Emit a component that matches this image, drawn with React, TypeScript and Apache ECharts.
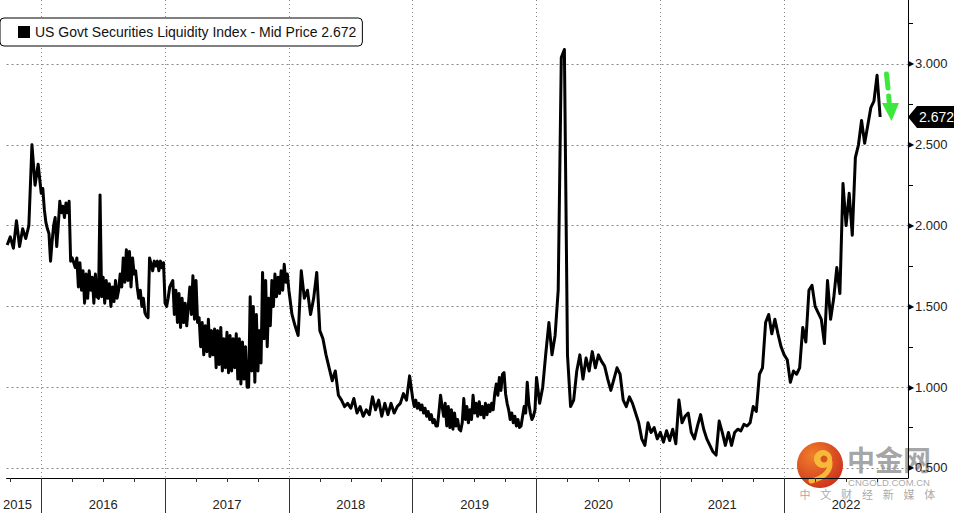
import React, { useEffect, useRef } from "react";
import * as echarts from "echarts";

const SERIES_NAME = "US Govt Securities Liquidity Index - Mid Price";
const FIRST_SAMPLE = 2015.725;

// values, one array per calendar year
// (2016, 2017 and 2019 are sampled twice as densely because those stretches are very noisy)
const v2015 = [1.88, 1.93, 1.86, 2.03, 1.87, 1.98, 1.92, 2.0, 2.5, 2.25, 2.38];
const v2016 = [2.2, 2.23, 2.1, 2.02, 1.98, 1.95, 1.78, 1.9, 2.0, 2.05, 1.87, 2.0, 2.15, 2.08, 2.12, 2.05, 2.14, 2.08, 2.15, 1.78,
  1.8, 1.77, 1.74, 1.8, 1.62, 1.77, 1.6, 1.72, 1.52, 1.7, 1.55, 1.72, 1.6, 1.68, 1.52, 1.7, 1.56, 1.55, 2.19, 1.56,
  1.68, 1.52, 1.66, 1.55, 1.64, 1.5, 1.62, 1.53, 1.66, 1.55, 1.6, 1.7, 1.62, 1.8, 1.65, 1.85, 1.66, 1.84, 1.62, 1.8,
  1.7, 1.72, 1.62, 1.55, 1.6, 1.5, 1.55, 1.46, 1.44, 1.43, 1.8, 1.76, 1.72, 1.78, 1.75, 1.78, 1.72, 1.78, 1.74, 1.77];
const v2017 = [1.52, 1.5, 1.55, 1.62, 1.64, 1.66, 1.45, 1.6, 1.4, 1.58, 1.37, 1.55, 1.4, 1.52, 1.38, 1.5, 1.62, 1.45, 1.69, 1.42,
  1.66, 1.4, 1.43, 1.25, 1.4, 1.2, 1.38, 1.22, 1.42, 1.19, 1.35, 1.2, 1.36, 1.12, 1.35, 1.14, 1.37, 1.1, 1.3, 1.12,
  1.34, 1.09, 1.32, 1.1, 1.3, 1.12, 1.33, 1.05, 1.3, 1.02, 1.28, 1.05, 1.25, 1.0, 1.0, 1.56, 1.1, 1.5, 1.03, 1.45,
  1.1, 1.35, 1.15, 1.71, 1.3, 1.66, 1.25, 1.55, 1.38, 1.66, 1.5, 1.7, 1.56, 1.68, 1.58, 1.72, 1.6, 1.76, 1.65, 1.7];
const v2018 = [1.6, 1.45, 1.38, 1.32, 1.72, 1.55, 1.6, 1.45, 1.55, 1.71, 1.35, 1.3, 1.2, 1.12, 1.04, 1.1, 0.95, 0.92, 0.88, 0.9,
  0.87, 0.93, 0.84, 0.88, 0.82, 0.86, 0.83, 0.94, 0.86, 0.92, 0.82, 0.9, 0.83, 0.9, 0.84, 0.88, 0.9, 0.96, 0.92, 1.07];
const v2019 = [0.93, 0.88, 0.92, 0.87, 0.9, 0.86, 0.89, 0.84, 0.87, 0.82, 0.85, 0.8, 0.83, 0.78, 0.8, 0.76, 0.76, 0.85, 0.95, 0.88,
  0.82, 0.9, 0.76, 0.88, 0.75, 0.86, 0.74, 0.84, 0.76, 0.8, 0.74, 0.73, 0.78, 0.93, 0.8, 0.88, 0.78, 0.86, 0.8, 0.95,
  0.84, 0.9, 0.82, 0.91, 0.83, 0.88, 0.81, 0.9, 0.83, 0.89, 0.85, 0.9, 0.86, 0.96, 1.02, 0.95, 1.06, 0.98, 1.08, 1.09,
  0.96, 0.9, 0.86, 0.8, 0.84, 0.78, 0.82, 0.76, 0.8, 0.75, 0.76, 0.82, 0.88, 0.84, 1.03, 0.9, 0.84, 0.8, 0.82, 0.86];
const v2020 = [1.06, 0.9, 1.0, 1.21, 1.4, 1.2, 1.32, 1.6, 3.04, 3.09, 1.2, 0.88, 0.92, 1.1, 1.2, 1.05, 1.18, 1.1, 1.22, 1.12,
  1.2, 1.16, 1.13, 1.05, 0.98, 1.05, 1.12, 1.08, 0.92, 0.88, 0.94, 0.9, 0.84, 0.78, 0.68, 0.64, 0.78, 0.72, 0.75, 0.68];
const v2021 = [0.72, 0.66, 0.73, 0.67, 0.74, 0.65, 0.92, 0.78, 0.82, 0.84, 0.72, 0.68, 0.76, 0.83, 0.74, 0.68, 0.64, 0.6, 0.58, 0.79,
  0.72, 0.64, 0.72, 0.64, 0.72, 0.74, 0.73, 0.77, 0.76, 0.78, 0.88, 0.85, 1.08, 1.12, 1.4, 1.45, 1.33, 1.42, 1.33, 1.25];
const v2022 = [1.2, 1.17, 1.03, 1.1, 1.08, 1.12, 1.37, 1.28, 1.6, 1.63, 1.5, 1.46, 1.42, 1.27, 1.66, 1.42, 1.55, 1.74, 1.58, 2.26,
  2.0, 2.2, 1.94, 2.42, 2.5, 2.65, 2.51, 2.62, 2.73, 2.77, 2.93, 2.672];

const yearStarts = [FIRST_SAMPLE, 2016, 2017, 2018, 2019, 2020, 2021, 2022];
const yearSamplesPerYear = [40, 80, 80, 40, 80, 40, 40, 40];
const yearValues = [v2015, v2016, v2017, v2018, v2019, v2020, v2021, v2022];

const X_MIN = 2015.72;
const X_MAX = 2023.0;
const Y_MIN = 0.438;
const Y_MAX = 3.396;

const yearBoundaries = [2016, 2017, 2018, 2019, 2020, 2021, 2022];
const yearLabelPositions = [2015.808, 2016.5, 2017.5, 2018.5, 2019.5, 2020.5, 2021.5, 2022.5];
const quarterTicks = [2015.75, ...yearBoundaries.flatMap((y) => [y + 0.25, y + 0.5, y + 0.75])];
const priceTicks = [0.5, 1.0, 1.5, 2.0, 2.5, 3.0];
const priceMinorTicks = [0.75, 1.25, 1.75, 2.25, 2.75, 3.25];

const watermarkChars = ["中", "文", "财", "经", "新", "媒", "体"];

const seriesData = yearValues.flatMap((vals, k) =>
  vals.map((v, i) => [yearStarts[k] + i / yearSamplesPerYear[k], v])
);
const lastValue = v2022[v2022.length - 1];

const FONT = "'Liberation Sans', Arial, sans-serif";
const CJK = "'Noto Sans CJK SC', sans-serif";

export default function App() {
  const ref = useRef<HTMLDivElement>(null);

  useEffect(() => {
    const chart = echarts.init(ref.current!, null, { renderer: "svg" });
    chart.setOption({
      animation: false,
      backgroundColor: "#ffffff",
      textStyle: { fontFamily: FONT },
      grid: { left: 0, right: 46, top: 0, bottom: 35, containLabel: false },
      legend: {
        left: 0,
        top: 18,
        padding: [7, 6, 7, 18],
        itemWidth: 12,
        itemHeight: 12,
        icon: "rect",
        selectedMode: false,
        backgroundColor: "#ffffff",
        borderColor: "#000000",
        borderWidth: 1,
        borderRadius: 4,
        textStyle: { fontSize: 14, color: "#111", fontFamily: FONT },
        formatter: (n: string) => `${n} ${lastValue.toFixed(3)}`,
        data: [SERIES_NAME],
      },
      xAxis: [
        {
          type: "value",
          min: X_MIN,
          max: X_MAX,
          position: "bottom",
          axisLine: { show: true, onZero: false, lineStyle: { color: "#000", width: 1 } },
          axisTick: { show: true, customValues: yearBoundaries, length: 35, lineStyle: { color: "#333" } },
          axisLabel: {
            show: true,
            customValues: yearLabelPositions,
            formatter: (v: number) => String(Math.floor(v)),
            margin: 20,
            fontSize: 13,
            color: "#222",
            fontFamily: FONT,
          },
          splitLine: { show: true, lineStyle: { color: "#888", type: [1, 3] } },
        },
        {
          type: "value",
          min: X_MIN,
          max: X_MAX,
          position: "bottom",
          axisLine: { show: false, onZero: false },
          axisTick: { show: true, customValues: quarterTicks, length: 4, lineStyle: { color: "#333" } },
          axisLabel: { show: false },
          splitLine: { show: false },
        },
      ],
      yAxis: [
        {
          type: "value",
          position: "right",
          min: Y_MIN,
          max: Y_MAX,
          axisLine: { show: true, onZero: false, lineStyle: { color: "#000" } },
          axisTick: { show: false, customValues: priceTicks },
          axisLabel: {
            customValues: priceTicks,
            margin: 0,
            formatter: (v: number) => `{t|▶}{v|${v.toFixed(3)}}`,
            rich: {
              t: { fontSize: 8, color: "#000", padding: [0, 1, 0, 0] },
              v: { fontSize: 13, color: "#222", fontFamily: FONT },
            },
          },
          splitLine: { show: true, lineStyle: { color: "#888", type: [2, 3] } },
        },
        {
          type: "value",
          position: "right",
          min: Y_MIN,
          max: Y_MAX,
          axisLine: { show: false, onZero: false },
          axisTick: { show: true, customValues: priceMinorTicks, length: 5, lineStyle: { color: "#000" } },
          axisLabel: { show: false },
          splitLine: { show: false },
        },
      ],
      series: [
        {
          name: SERIES_NAME,
          type: "line",
          data: seriesData,
          showSymbol: false,
          symbol: "none",
          lineStyle: { color: "#000", width: 3, join: "round" },
          itemStyle: { color: "#000" },
          z: 3,
          clip: true,
        },
      ],
    });

    const yPix = chart.convertToPixel({ yAxisIndex: 0 }, lastValue) as number;
    const xPix = chart.convertToPixel({ xAxisIndex: 0 }, X_MAX) as number;
    const green = "#3be83b";

    chart.setOption({
      graphic: [
        // legend expand box icon
        {
          type: "group",
          z: 100,
          children: [
            { type: "rect", shape: { x: 8.5, y: 30.5, width: 6, height: 6 }, style: { fill: "#fff", stroke: "#777", lineWidth: 1 } },
            { type: "line", shape: { x1: 10, y1: 33.5, x2: 13, y2: 33.5 }, style: { stroke: "#555", lineWidth: 1 } },
            { type: "line", shape: { x1: 11.5, y1: 32, x2: 11.5, y2: 35 }, style: { stroke: "#555", lineWidth: 1 } },
          ],
        },
        // green annotation arrow
        {
          type: "group",
          z: 100,
          children: [
            { type: "line", shape: { x1: 886.5, y1: 74, x2: 888, y2: 88 }, style: { stroke: green, lineWidth: 5, lineCap: "round" } },
            { type: "line", shape: { x1: 888.7, y1: 96, x2: 889.2, y2: 102 }, style: { stroke: green, lineWidth: 5, lineCap: "round" } },
            { type: "polygon", shape: { points: [[882, 103], [899, 103], [891.5, 121]] }, style: { fill: green } },
          ],
        },
        // last value tag
        {
          type: "group",
          x: xPix,
          y: yPix,
          z: 100,
          children: [
            { type: "polygon", shape: { points: [[0, 0], [9, -11], [46, -11], [46, 11], [9, 11]] }, style: { fill: "#000" } },
            {
              type: "text",
              x: 11,
              y: 0,
              style: { text: lastValue.toFixed(3), fill: "#fff", fontSize: 14, fontFamily: FONT, verticalAlign: "middle", align: "left" },
            },
          ],
        },
        // watermark
        {
          type: "group",
          z: 120,
          children: [
            {
              type: "circle",
              shape: { cx: 820, cy: 465, r: 23 },
              style: {
                fill: {
                  type: "radial",
                  x: 0.35,
                  y: 0.3,
                  r: 0.85,
                  colorStops: [
                    { offset: 0, color: "#f0802a" },
                    { offset: 1, color: "#c9281b" },
                  ],
                },
              },
            },
            { type: "circle", shape: { cx: 823, cy: 459, r: 9 }, style: { fill: "#f6b93a" } },
            { type: "circle", shape: { cx: 824, cy: 459, r: 3.5 }, style: { fill: "#d9521f" } },
            {
              type: "bezierCurve",
              shape: { x1: 830, y1: 462, x2: 811, y2: 481, cpx1: 831, cpy1: 476 },
              style: { stroke: "#f6b93a", lineWidth: 5, fill: "none", lineCap: "round" },
            },
            {
              type: "text",
              x: 847,
              y: 459,
              style: {
                text: "中金网",
                fill: "rgba(150,150,150,0.85)",
                fontSize: 28,
                fontWeight: "bold",
                fontFamily: CJK,
                verticalAlign: "middle",
                align: "left",
              },
            },
            {
              type: "text",
              x: 889,
              y: 482,
              style: {
                text: "CNGOLD.COM.CN",
                fill: "rgba(160,160,160,0.9)",
                fontSize: 9.5,
                fontFamily: FONT,
                verticalAlign: "middle",
                align: "center",
              },
            },
            ...watermarkChars.map((ch, i) => ({
              type: "text",
              x: 805 + i * 20.8,
              y: 494,
              style: {
                text: ch,
                fill: "rgba(160,160,160,0.9)",
                fontSize: 11,
                fontFamily: CJK,
                verticalAlign: "middle",
                align: "center",
              },
            })),
          ],
        },
      ],
    });

    return () => chart.dispose();
  }, []);

  return (
    <div
      ref={ref}
      style={{ position: "fixed", left: 0, top: 0, width: 954, height: 513, background: "#fff" }}
    />
  );
}
